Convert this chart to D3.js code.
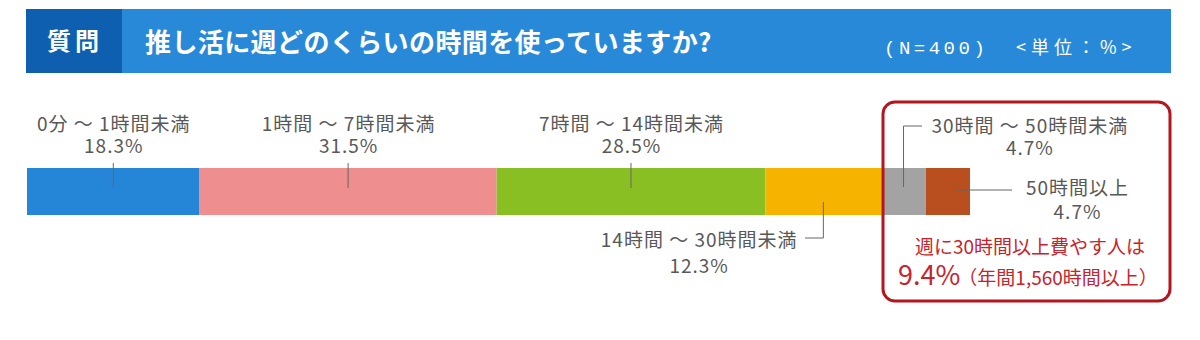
<!DOCTYPE html>
<html lang="ja">
<head>
<meta charset="utf-8">
<script src="https://cdn.jsdelivr.net/npm/d3@7"></script>
<style>
  html, body { margin: 0; padding: 0; background: #fff; }
  svg { display: block; font-family: "Noto Sans CJK JP", "Noto Sans", sans-serif; }
</style>
</head>
<body>
<svg id="chart" width="1200" height="340"></svg>
<script>
// Survey answers: weekly time spent on 推し活 (N=400)
const categories = [
  "0分 ～ 1時間未満",
  "1時間 ～ 7時間未満",
  "7時間 ～ 14時間未満",
  "14時間 ～ 30時間未満",
  "30時間 ～ 50時間未満",
  "50時間以上"
];
const shares = [18.3, 31.5, 28.5, 12.3, 4.7, 4.7];
const segmentColors = ["#2586d8", "#ee8e8e", "#8abf24", "#f6b300", "#a3a3a3", "#b94f1f"];

const questionTag = "質問";
const questionText = "推し活に週どのくらいの時間を使っていますか?";
const sampleNote = "(N=400)";
const unitNote = "<単位：%>";
const calloutLine1 = "週に30時間以上費やす人は";
const calloutLine2 = "（年間1,560時間以上）";

const svg = d3.select("#chart");
const labelColor = "#585858";
const redText = "#c8232b";

// ---- header band ----
svg.append("rect").attr("x", 26).attr("y", 9).attr("width", 1145).attr("height", 64).attr("fill", "#2889d9");
svg.append("rect").attr("x", 26).attr("y", 9).attr("width", 96).attr("height", 64).attr("fill", "#0f5fb0");
svg.append("text").attr("x", 75).attr("y", 50).attr("text-anchor", "middle")
  .attr("fill", "#fff").attr("font-size", 24).attr("font-weight", 700)
  .attr("letter-spacing", 4).text(questionTag);
svg.append("text").attr("x", 145).attr("y", 52)
  .attr("fill", "#fff").attr("font-size", 26).attr("font-weight", 700)
  .attr("letter-spacing", 0.4).text(questionText);
svg.append("text").attr("x", 884).attr("y", 54)
  .attr("fill", "#fff").attr("font-size", 19).attr("letter-spacing", 3.5)
  .style("font-family", "'Liberation Mono', monospace").text(sampleNote);
svg.append("text").attr("x", 1016).attr("y", 54)
  .attr("fill", "#fff").attr("font-size", 18).attr("letter-spacing", 5)
  .text(unitNote);

// ---- stacked bar ----
const x = d3.scaleLinear().domain([0, 100]).range([27, 970]);
const barTop = 168, barH = 47;

const rows = shares.map((v, i) => {
  const start = d3.sum(shares.slice(0, i));
  return { label: categories[i], value: v, start, end: start + v, color: segmentColors[i] };
});

svg.append("g").selectAll("rect").data(rows).join("rect")
  .attr("x", d => x(d.start))
  .attr("y", barTop)
  .attr("width", d => x(d.end) - x(d.start))
  .attr("height", barH)
  .attr("fill", d => d.color);

const mid = d => (x(d.start) + x(d.end)) / 2;
const pct = v => v.toFixed(1) + "%";

const labels = svg.append("g").attr("font-size", 19).attr("letter-spacing", 1).attr("fill", labelColor);
const leaders = svg.append("g").attr("fill", "none").attr("stroke", "#666").attr("stroke-width", 1);

// two-line label (category + share) centred on cx, first baseline at y
function stackedLabel(cx, y, d, gap) {
  const t = labels.append("text").attr("text-anchor", "middle").attr("y", y);
  t.append("tspan").attr("x", cx + 0.5).text(d.label);
  t.append("tspan").attr("x", cx + 0.5).attr("dy", gap).text(pct(d.value));
  return t;
}

// wide segments: labels above, short tick into the bar
rows.slice(0, 3).forEach(d => {
  const cx = mid(d);
  stackedLabel(cx, 131, d, 22);
  leaders.append("line").attr("x1", cx).attr("x2", cx).attr("y1", 163).attr("y2", 188);
});

// measure a category label's width at the label font
function labelWidth(s) {
  const t = labels.append("text").text(s);
  const w = t.node().getComputedTextLength();
  t.remove();
  return w;
}

// 14-30h: label below-left with elbow leader
{
  const d = rows[3], cx = mid(d);
  leaders.append("path").attr("d", `M${cx},202V238H805`);
  const w = labelWidth(d.label);
  stackedLabel(797 - w / 2, 247, d, 26);
}

// 30-50h: label above-right with elbow leader
{
  const d = rows[4], cx = mid(d);
  leaders.append("path").attr("d", `M${cx},187V126H922`);
  const w = labelWidth(d.label);
  stackedLabel(931 + w / 2, 133, d, 22);
}

// 50h+: label to the right with straight leader
{
  const d = rows[5], cx = mid(d);
  leaders.append("line").attr("x1", cx + 8).attr("x2", 1012).attr("y1", 190).attr("y2", 190);
  stackedLabel(1077, 195, d, 24);
}

// ---- callout box for 30h+ ----
const heavy = rows[4].value + rows[5].value;
svg.append("rect").attr("x", 883).attr("y", 102).attr("width", 287).attr("height", 199)
  .attr("rx", 12).attr("fill", "none").attr("stroke", "#b3161e").attr("stroke-width", 3);
const callout = svg.append("text").attr("fill", redText).attr("y", 254);
callout.append("tspan").attr("x", 1030).attr("text-anchor", "middle").attr("font-size", 19).text(calloutLine1);
callout.append("tspan").attr("x", 898).attr("dy", 31).attr("font-size", 27).text(heavy.toFixed(1) + "%");
callout.append("tspan").attr("dx", -2).attr("font-size", 19).text(calloutLine2);
</script>
</body>
</html>
